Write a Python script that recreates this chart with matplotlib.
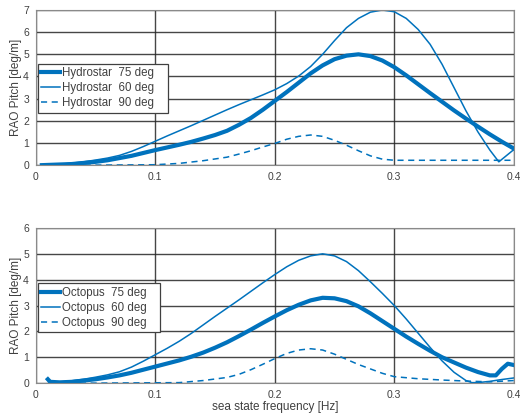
import matplotlib
matplotlib.use("Agg")
import matplotlib.pyplot as plt

plt.rcParams['font.family'] = ['Liberation Sans', 'DejaVu Sans']

# ---- Top panel: Hydrostar ----
hs_x = [0.005, 0.01, 0.02, 0.03, 0.04, 0.05, 0.06, 0.07, 0.08, 0.09, 0.10,
        0.11, 0.12, 0.13, 0.14, 0.15, 0.16, 0.17, 0.18, 0.19, 0.20,
        0.21, 0.22, 0.23, 0.24, 0.25, 0.26, 0.27, 0.28, 0.29, 0.30,
        0.31, 0.32, 0.33, 0.34, 0.35, 0.36, 0.37, 0.38, 0.39, 0.40]
hs75_y = [0.0, 0.01, 0.03, 0.05, 0.1, 0.15, 0.22, 0.32, 0.42, 0.55, 0.68,
          0.8, 0.92, 1.05, 1.2, 1.36, 1.55, 1.82, 2.13, 2.5, 2.9,
          3.3, 3.72, 4.14, 4.5, 4.78, 4.94, 5.0, 4.92, 4.72, 4.42,
          4.05, 3.65, 3.25, 2.86, 2.47, 2.1, 1.74, 1.39, 1.06, 0.75]

hs60_x = [0.005, 0.01, 0.02, 0.03, 0.04, 0.05, 0.06, 0.07, 0.08, 0.09, 0.10,
          0.11, 0.12, 0.13, 0.14, 0.15, 0.16, 0.17, 0.18, 0.19, 0.20,
          0.21, 0.22, 0.23, 0.24, 0.25, 0.26, 0.27, 0.28, 0.29, 0.30,
          0.31, 0.32, 0.33, 0.34, 0.35, 0.36, 0.37, 0.38, 0.3875, 0.40]
hs60_y = [0.0, 0.01, 0.04, 0.09, 0.15, 0.23, 0.32, 0.44, 0.62, 0.84, 1.08,
          1.32, 1.55, 1.78, 2.02, 2.26, 2.5, 2.73, 2.95, 3.17, 3.4,
          3.68, 4.02, 4.45, 5.0, 5.62, 6.2, 6.62, 6.9, 7.0, 6.92,
          6.62, 6.12, 5.45, 4.55, 3.5, 2.45, 1.5, 0.68, 0.15, 0.7]

hs90_x = [0.005, 0.05, 0.10, 0.12, 0.14, 0.16, 0.17, 0.18, 0.19, 0.20,
          0.21, 0.22, 0.23, 0.24, 0.25, 0.26, 0.27, 0.28, 0.29, 0.30,
          0.32, 0.35, 0.40]
hs90_y = [0.0, 0.0, 0.02, 0.08, 0.2, 0.36, 0.5, 0.65, 0.82, 0.98,
          1.17, 1.3, 1.36, 1.3, 1.12, 0.9, 0.65, 0.42, 0.27, 0.22,
          0.22, 0.22, 0.22]

# ---- Bottom panel: Octopus ----
oc_x = [0.010, 0.012, 0.02, 0.03, 0.04, 0.05, 0.06, 0.07, 0.08, 0.09, 0.10,
        0.11, 0.12, 0.13, 0.14, 0.15, 0.16, 0.17, 0.18, 0.19, 0.20,
        0.21, 0.22, 0.23, 0.24, 0.25, 0.26, 0.27, 0.28, 0.29, 0.30,
        0.31, 0.32, 0.33, 0.34, 0.35, 0.36, 0.37, 0.38, 0.385, 0.39, 0.395, 0.40]
oc75_y = [0.15, 0.05, 0.03, 0.05, 0.1, 0.15, 0.22, 0.3, 0.4, 0.52, 0.64,
          0.76, 0.88, 1.02, 1.18, 1.37, 1.58, 1.82, 2.07, 2.33, 2.58,
          2.82, 3.03, 3.2, 3.3, 3.28, 3.17, 2.97, 2.7, 2.4, 2.1,
          1.8, 1.52, 1.25, 1.0, 0.8, 0.6, 0.43, 0.3, 0.3, 0.55, 0.75, 0.7]

oc60_x = [0.010, 0.012, 0.02, 0.03, 0.04, 0.05, 0.06, 0.07, 0.08, 0.09, 0.10,
          0.11, 0.12, 0.13, 0.14, 0.15, 0.16, 0.17, 0.18, 0.19, 0.20,
          0.21, 0.22, 0.23, 0.24, 0.25, 0.26, 0.27, 0.28, 0.29, 0.30,
          0.31, 0.32, 0.33, 0.34, 0.35, 0.36, 0.365, 0.37, 0.38, 0.39, 0.40]
oc60_y = [0.1, 0.04, 0.04, 0.09, 0.15, 0.23, 0.32, 0.44, 0.62, 0.85, 1.1,
          1.35, 1.62, 1.92, 2.25, 2.58, 2.9, 3.22, 3.55, 3.88, 4.2,
          4.5, 4.75, 4.92, 5.0, 4.92, 4.7, 4.35, 3.92, 3.47, 3.0,
          2.48, 1.93, 1.38, 0.86, 0.42, 0.1, 0.02, 0.02, 0.07, 0.14, 0.2]

oc90_x = [0.010, 0.05, 0.12, 0.14, 0.16, 0.17, 0.18, 0.19, 0.20,
          0.21, 0.22, 0.23, 0.24, 0.25, 0.26, 0.27, 0.28, 0.29, 0.30,
          0.32, 0.34, 0.36, 0.38, 0.40]
oc90_y = [0.0, 0.0, 0.02, 0.1, 0.22, 0.34, 0.52, 0.73, 0.95,
          1.15, 1.28, 1.33, 1.28, 1.12, 0.92, 0.72, 0.55, 0.38, 0.25,
          0.17, 0.12, 0.08, 0.05, 0.1]

x_ticks = [0, 0.1, 0.2, 0.3, 0.4]
x_tick_labels = ["0", "0.1", "0.2", "0.3", "0.4"]

top_labels = ["Hydrostar  75 deg", "Hydrostar  60 deg", "Hydrostar  90 deg"]
bot_labels = ["Octopus  75 deg", "Octopus  60 deg", "Octopus  90 deg"]

color = "#0072BD"
txt = "#404040"

fig = plt.figure(figsize=(5.2, 4.16), dpi=100)
ax1 = fig.add_axes([0.069, 0.603, 0.919, 0.373])
ax2 = fig.add_axes([0.069, 0.079, 0.919, 0.373])


def style(ax, ymax):
    ax.set_xlim(0, 0.4)
    ax.set_ylim(0, ymax)
    ax.set_xticks(x_ticks)
    ax.set_xticklabels(x_tick_labels)
    ax.set_yticks(range(0, ymax + 1))
    ax.grid(True, color="#262626", linewidth=1.0, alpha=0.85)
    ax.set_axisbelow(True)
    ax.tick_params(length=0, labelsize=7.5, colors=txt)
    ax.tick_params(axis="x", pad=5)
    ax.tick_params(axis="y", pad=5)
    for s in ax.spines.values():
        s.set_color("#8a8a8a")
        s.set_linewidth(0.8)
    ax.set_ylabel("RAO Pitch [deg/m]", fontsize=8.5, color=txt, labelpad=1)


pad_txt = "   "


def legend(ax, anchor_y):
    leg = ax.legend(loc="upper left", bbox_to_anchor=(0.004, anchor_y), fontsize=8.3,
                    frameon=True, fancybox=False, edgecolor="#404040", framealpha=1,
                    handlelength=1.6, handletextpad=0.2, borderpad=0.32, labelspacing=0.26,
                    borderaxespad=0)
    leg.get_frame().set_linewidth(0.9)
    for t in leg.get_texts():
        t.set_color(txt)
    return leg


ax1.plot(hs_x, hs75_y, color=color, lw=3.0, label=top_labels[0] + pad_txt)
ax1.plot(hs60_x, hs60_y, color=color, lw=1.1, label=top_labels[1] + pad_txt)
ax1.plot(hs90_x, hs90_y, color=color, lw=1.1, ls=(0, (4, 3)), label=top_labels[2] + pad_txt)
style(ax1, 7)
legend(ax1, 0.655)

ax2.plot(oc_x, oc75_y, color=color, lw=3.0, label=bot_labels[0] + pad_txt)
ax2.plot(oc60_x, oc60_y, color=color, lw=1.1, label=bot_labels[1] + pad_txt)
ax2.plot(oc90_x, oc90_y, color=color, lw=1.1, ls=(0, (4, 3)), label=bot_labels[2] + pad_txt)
style(ax2, 6)
ax2.set_xlabel("sea state frequency [Hz]", fontsize=8.5, color=txt, labelpad=1)
legend(ax2, 0.645)

fig.savefig("out.png", dpi=100)
